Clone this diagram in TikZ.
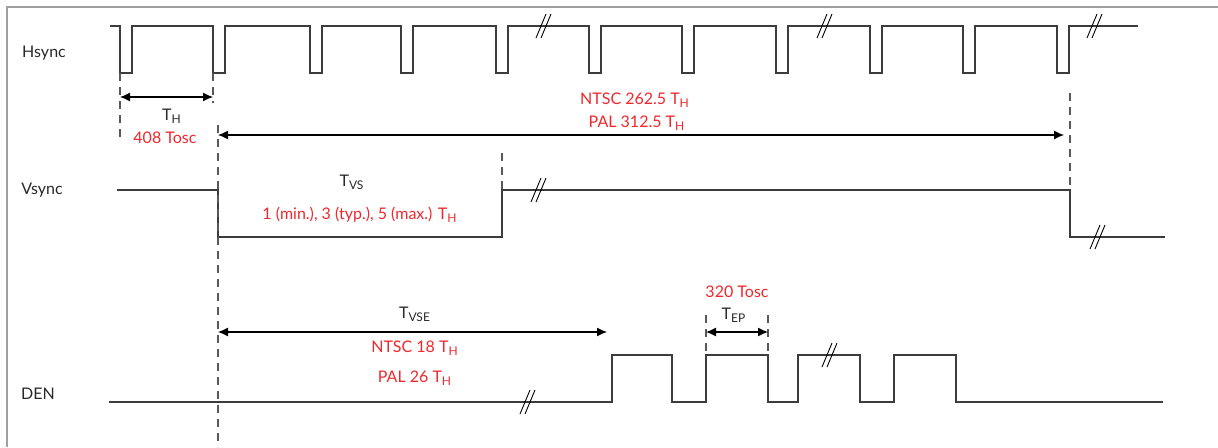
\documentclass[tikz,border=0pt]{standalone}
\usepackage{fontspec}
\setmainfont{Lato}
\usepackage{xcolor}
\usetikzlibrary{arrows.meta}
\definecolor{sigline}{RGB}{60,60,60}
\definecolor{txtgray}{RGB}{40,40,40}
\definecolor{lblred}{RGB}{240,40,45}
\definecolor{framegray}{RGB}{160,160,160}
\tikzset{
  sig/.style={draw=sigline,line width=0.6pt}, % Signalverlauf
  guide/.style={draw=sigline!85,line width=0.55pt,dash pattern=on 4pt off 3pt}, % Hilfslinien
  dim/.style={draw=black,line width=0.55pt,{Latex[length=5pt,width=4.5pt]}-{Latex[length=5pt,width=4.5pt]}}, % Masspfeile
  signame/.style={text=txtgray}, % Signalnamen
  sigval/.style={text=lblred}, % Zahlenwerte
  brk/.pic={\draw[black,line width=0.45pt] (-6,12) -- (4,-12);
            \draw[black,line width=0.45pt] (-1,12) -- (9,-12);}
}

\begin{document}
\begin{tikzpicture}[x=0.5pt,y=-0.5pt,
font=\fontsize{8}{10}\selectfont
]
\useasboundingbox (0,0) rectangle (1218,447);

%Rahmen
\draw[framegray,line width=1pt] (7,447) -- (7,7) -- (1218,7);

%Signalnamen
\node[signame] (lHs) at (44,53) {Hsync};
\node[signame] (lVs) at (42,190) {Vsync};
\node[signame] (lDen) at (38,394) {DEN};

%Hsync
\draw[sig] (110,26)
  foreach \f in {120,213,310,401,496,589,682,776,870,963,1057}
  { -- (\f,26) -- (\f,73) -- ({\f+12},73) -- ({\f+12},26) } -- (1138,26);
\pic at (542,26) {brk};
\pic at (823,26) {brk};
\pic at (1093,26) {brk};

%Vsync
\draw[sig] (117,190) -- (218,190) -- (218,237) -- (502,237) -- (502,190)
  -- (1070,190) -- (1070,237) -- (1165,237);
\pic at (537,190) {brk};
\pic at (1096,237) {brk};

%DEN
\draw[sig] (109,402)
  foreach \a/\b in {612/672,706/768,798/860,894/956}
  { -- (\a,402) -- (\a,355) -- (\b,355) -- (\b,402) } -- (1163,402);
\pic at (526,402) {brk};
\pic at (828,355) {brk};

%Hilfslinien
\coordinate (h1) at (120,73);
\coordinate (h2) at (213,73);
\coordinate (v0) at (218,125);
\coordinate (v1) at (502,153);
\coordinate (v2) at (1070,93);
\coordinate (e1) at (706,315);
\coordinate (e2) at (768,315);
\draw[guide] (h1) -- ++(0,69);
\draw[guide] (h2) -- ++(0,30);
\draw[guide] (v0) -- (218,447);
\draw[guide] (v1) -- ++(0,37);
\draw[guide] (v2) -- ++(0,97);
\draw[guide] (e1) -- ++(0,40);
\draw[guide] (e2) -- ++(0,40);

%Masspfeile
\draw[dim] (120,97) -- (213,97);
\draw[dim] (218,135) -- (1064,135);
\draw[dim] (218,332) -- (607,332);
\draw[dim] (706,332) -- (768,332);

%Beschriftung
\node[signame] (tH) at (172,116) {T\textsubscript{H}};
\node[sigval] (tHosc) at (165,138) {408 Tosc};
\node[sigval] (fNtsc) at (635,100) {NTSC 262.5 T\textsubscript{H}};
\node[sigval] (fPal) at (637,123) {PAL 312.5 T\textsubscript{H}};
\node[signame] (tVS) at (352,182) {T\textsubscript{VS}};
\node[sigval] (tVSv) at (360,215) {1 (min.), 3 (typ.), 5 (max.) T\textsubscript{H}};
\node[signame] (tVSE) at (415,314) {T\textsubscript{VSE}};
\node[sigval] (eNtsc) at (415,348) {NTSC 18 T\textsubscript{H}};
\node[sigval] (ePal) at (415,378) {PAL 26 T\textsubscript{H}};
\node[signame] (tEP) at (734,315) {T\textsubscript{EP}};
\node[sigval] (tEPosc) at (737,292) {320 Tosc};

\end{tikzpicture}
\end{document}
